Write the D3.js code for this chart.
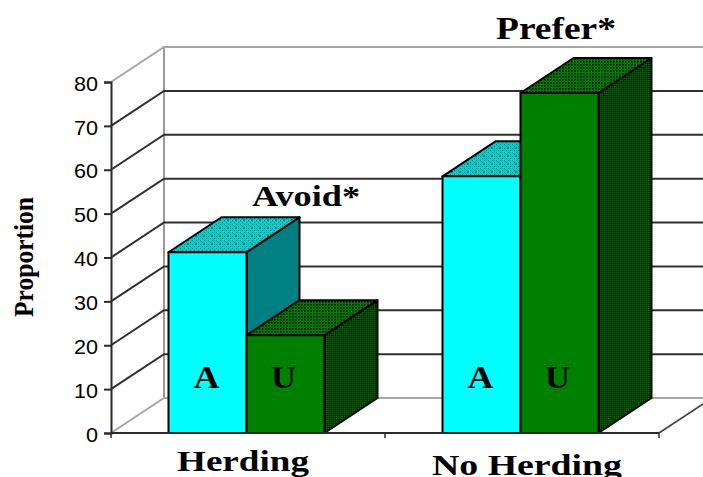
<!DOCTYPE html>
<html>
<head>
<meta charset="utf-8">
<script src="https://cdn.jsdelivr.net/npm/d3@7"></script>
<style>
html,body{margin:0;padding:0;background:#fff;overflow:hidden}
text{fill:#000}
</style>
</head>
<body>
<svg id="chart" width="703" height="477"></svg>
<script>
const categories = ["Herding", "No Herding"];
const seriesNames = ["A", "U"];
const herdingValues = [41.2, 22.3];
const noHerdingValues = [58.5, 77.5];
const yTicks = [0, 10, 20, 30, 40, 50, 60, 70, 80];
const bracketLabels = ["Avoid*", "Prefer*"];

const valuesByCategory = [herdingValues, noHerdingValues];

const svg = d3.select("#chart");
const depthX = 53, depthY = -35;
const serif = "'Liberation Serif','Times New Roman',serif";
const sans = "'Liberation Sans',Arial,sans-serif";

const y = d3.scaleLinear().domain([0, 80]).range([433, 82]);
const x0 = d3.scaleBand().domain(categories).range([111, 659]);
const barWidth = 78;
const x1 = d3.scaleBand().domain(seriesNames)
  .range([(x0.bandwidth() - 2 * barWidth) / 2 - 1.5, (x0.bandwidth() + 2 * barWidth) / 2 - 1.5]);

const faces = {
  A: {front: "#00ffff", side: "#008080", top: "url(#topA)"},
  U: {front: "#008000", side: "url(#sideU)", top: "url(#topU)"}
};

// Dithered fills for the shaded faces
const defs = svg.append("defs");
function dither(id, w, bg, dots) {
  const p = defs.append("pattern").attr("id", id).attr("width", w).attr("height", w)
    .attr("patternUnits", "userSpaceOnUse");
  p.append("rect").attr("width", w).attr("height", w).attr("fill", bg);
  dots.forEach(d => p.append("rect").attr("x", d[0]).attr("y", d[1])
    .attr("width", d[2]).attr("height", d[2]).attr("fill", d[3]));
}
dither("topA", 8, "#00cccc", [[0,0,1,"#008a8a"],[2,2,1,"#008a8a"],[4,0,1,"#008a8a"],[6,2,1,"#008a8a"],
  [0,4,1,"#008a8a"],[2,6,1,"#008a8a"],[4,4,1,"#008a8a"],[6,6,1,"#008a8a"],[3,3,2,"#007f7f"]]);
dither("topU", 3, "#007a00", [[1,1,1.6,"#001500"]]);
dither("sideU", 2, "#004000", [[0,0,1,"#006c00"],[1,1,1,"#000c00"]]);

// Chart walls and floor
const gridColor = v => (v === 0 || v === 80) ? "#a6a6a6" : "#303030";
const backRight = 720;
const walls = svg.append("g").attr("fill", "none");
walls.append("line").attr("x1", 111 + depthX).attr("x2", 111 + depthX)
  .attr("y1", y(0) + depthY).attr("y2", y(80) + depthY)
  .attr("stroke", "#9a9a9a").attr("stroke-width", 2);
walls.selectAll(".grid").data(yTicks).join("path")
  .attr("class", "grid")
  .attr("d", v => `M111,${y(v)}L${111 + depthX},${y(v) + depthY}H${backRight}`)
  .attr("stroke", gridColor)
  .attr("stroke-width", 2);
walls.append("line").attr("x1", 659).attr("y1", y(0))
  .attr("x2", 659 + depthX).attr("y2", y(0) + depthY)
  .attr("stroke", "#444").attr("stroke-width", 1.6);

// Placement of the letter inside each bar, as offsets from the bar centre
const letterWidth = {A: 26, U: 25};
const letterNudge = {A: -1, U: -2};

// Bars, drawn left to right so nearer faces overlap
categories.forEach((cat, ci) => {
  seriesNames.forEach((s, si) => {
    const v = valuesByCategory[ci][si];
    const left = x0(cat) + x1(s), right = left + x1.bandwidth();
    const top = y(v), base = y(0);
    const g = svg.append("g").attr("stroke", "#000").attr("stroke-width", 2)
      .attr("stroke-linejoin", "round");
    g.append("path").attr("fill", faces[s].side)
      .attr("d", `M${right},${base}V${top}l${depthX},${depthY}V${base + depthY}Z`);
    g.append("path").attr("fill", faces[s].top)
      .attr("d", `M${left},${top}l${depthX},${depthY}H${right + depthX}L${right},${top}Z`);
    g.append("rect").attr("x", left).attr("y", top)
      .attr("width", right - left).attr("height", base - top)
      .attr("fill", faces[s].front);
    svg.append("text").attr("x", (left + right) / 2 + letterNudge[s]).attr("y", 388)
      .attr("text-anchor", "middle")
      .attr("font-family", serif).attr("font-weight", "bold").attr("font-size", 31)
      .attr("textLength", letterWidth[s]).attr("lengthAdjust", "spacingAndGlyphs")
      .text(s);
  });
});

// Value axis
const axis = svg.append("g").attr("transform", "translate(111,0)")
  .call(d3.axisLeft(y).tickValues(yTicks).tickSize(7).tickPadding(6).tickFormat(d3.format("d")));
axis.select(".domain").attr("stroke", "#2a2a2a").attr("stroke-width", 2);
axis.selectAll(".tick line").attr("stroke", "#2a2a2a").attr("stroke-width", 2);
axis.selectAll(".tick text")
  .attr("font-family", sans).attr("font-size", 19.5).attr("fill", "#2b2b2b")
  .attr("dy", "0.42em")
  .attr("textLength", d => String(d).length * 12).attr("lengthAdjust", "spacingAndGlyphs");

// Category axis with ticks at the band edges
svg.append("line").attr("x1", 111).attr("x2", 659).attr("y1", y(0)).attr("y2", y(0))
  .attr("stroke", "#2a2a2a").attr("stroke-width", 2);
svg.selectAll(".cat-tick").data([...categories.map(c => x0(c)), x0.range()[1]]).join("line")
  .attr("class", "cat-tick")
  .attr("x1", d => d).attr("x2", d => d).attr("y1", y(0)).attr("y2", y(0) + 5)
  .attr("stroke", "#2a2a2a").attr("stroke-width", 1.5);

// Category names
const catLabelY = [471, 475];
const catLabelX = [243, 527];
const catLabelWidth = [132, 190];
svg.selectAll(".cat").data(categories).join("text")
  .attr("class", "cat")
  .attr("x", (d, i) => catLabelX[i]).attr("y", (d, i) => catLabelY[i])
  .attr("text-anchor", "middle")
  .attr("font-family", serif).attr("font-weight", "bold")
  .attr("font-size", 30)
  .attr("textLength", (d, i) => catLabelWidth[i]).attr("lengthAdjust", "spacingAndGlyphs")
  .text(d => d);

// Annotations above each group
svg.append("text").attr("x", 306).attr("y", 206).attr("text-anchor", "middle")
  .attr("font-family", serif).attr("font-weight", "bold").attr("font-size", 29)
  .attr("textLength", 108).attr("lengthAdjust", "spacingAndGlyphs").text(bracketLabels[0]);
svg.append("text").attr("x", 556).attr("y", 39).attr("text-anchor", "middle")
  .attr("font-family", serif).attr("font-weight", "bold").attr("font-size", 31)
  .attr("textLength", 120).attr("lengthAdjust", "spacingAndGlyphs").text(bracketLabels[1]);

// Value axis title
svg.append("text").attr("transform", "translate(33,257) rotate(-90)")
  .attr("text-anchor", "middle")
  .attr("font-family", serif).attr("font-weight", "bold").attr("font-size", 27)
  .attr("textLength", 120).attr("lengthAdjust", "spacingAndGlyphs").text("Proportion");
</script>
</body>
</html>
